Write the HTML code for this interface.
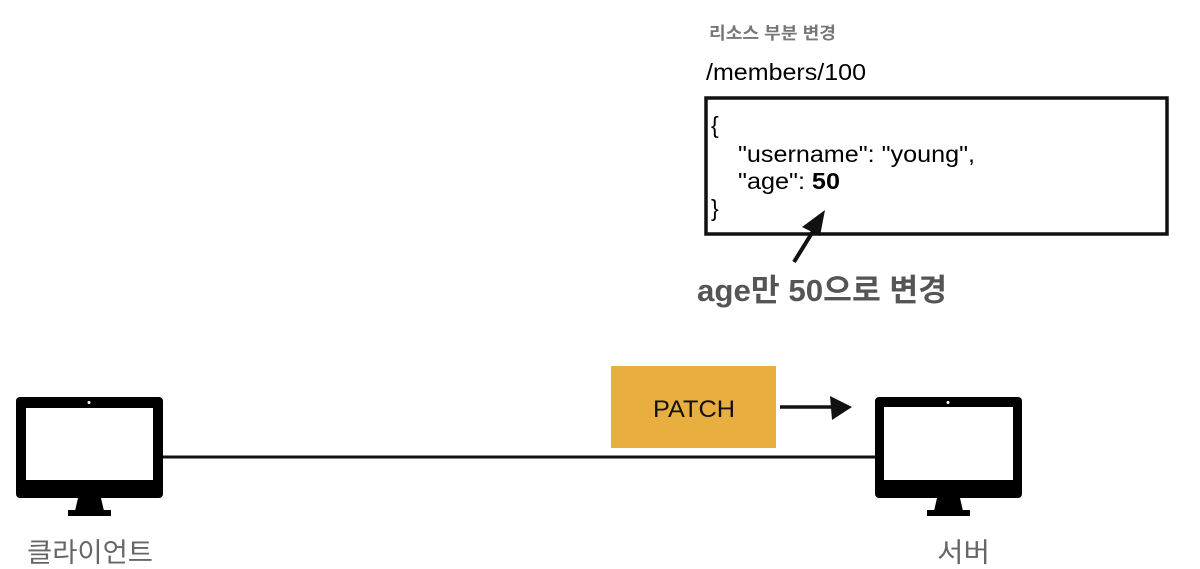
<!DOCTYPE html>
<html><head><meta charset="utf-8"><style>
html,body{margin:0;padding:0;background:#fff;}
body{width:1200px;height:569px;overflow:hidden;position:relative;}
svg{position:absolute;left:0;top:0;}
text{font-family:"Liberation Sans","Noto Sans CJK KR",sans-serif;}
</style></head><body>
<svg width="1200" height="569" viewBox="0 0 1200 569">
<text x="709" y="39" font-size="17" font-weight="bold" fill="#777" textLength="127" lengthAdjust="spacingAndGlyphs">리소스 부분 변경</text>
<text x="706" y="80" font-size="23" fill="#000" textLength="160" lengthAdjust="spacingAndGlyphs">/members/100</text>
<rect x="706" y="98" width="461" height="136" fill="none" stroke="#111" stroke-width="3.5"/>
<text x="711" y="133" font-size="23" fill="#000">{</text>
<text x="738" y="162" font-size="23" fill="#000" textLength="237" lengthAdjust="spacingAndGlyphs">"username": "young",</text>
<text x="738" y="189" font-size="23" fill="#000" textLength="102" lengthAdjust="spacingAndGlyphs">"age": <tspan font-weight="bold">50</tspan></text>
<text x="711" y="216" font-size="23" fill="#000">}</text>
<line x1="794" y1="262" x2="815" y2="228" stroke="#111" stroke-width="4"/>
<polygon points="825,210 802,227 820,236" fill="#111"/>
<text x="697" y="301" font-size="31" font-weight="bold" fill="#555" textLength="250" lengthAdjust="spacingAndGlyphs">age만 50으로 변경</text>
<rect x="611" y="366" width="165" height="82" fill="#E8AE40"/>
<text x="653" y="417" font-size="24" fill="#111" textLength="82" lengthAdjust="spacingAndGlyphs">PATCH</text>
<line x1="780" y1="407" x2="835" y2="407" stroke="#111" stroke-width="3.5"/>
<polygon points="852,407 830,396 832,420" fill="#111"/>
<line x1="163" y1="457" x2="875" y2="457" stroke="#111" stroke-width="3"/>
<g>
<rect x="16" y="397" width="147" height="101" rx="4" fill="#000"/>
<rect x="26" y="408" width="127" height="72" fill="#fff"/>
<circle cx="89" cy="402.5" r="1.5" fill="#fff"/>
<polygon points="78,498 101,498 104,511 75,511" fill="#000"/>
<rect x="68" y="510" width="43" height="6" fill="#000"/>
</g>
<g>
<rect x="875" y="397" width="147" height="101" rx="4" fill="#000"/>
<rect x="884" y="407" width="129" height="73" fill="#fff"/>
<circle cx="948" cy="402.5" r="1.5" fill="#fff"/>
<polygon points="937,498 960,498 963,511 934,511" fill="#000"/>
<rect x="927" y="510" width="43" height="6" fill="#000"/>
</g>
<text x="27" y="562" font-size="27" fill="#666" textLength="126" lengthAdjust="spacingAndGlyphs">클라이언트</text>
<text x="937" y="562" font-size="27" fill="#666" textLength="53" lengthAdjust="spacingAndGlyphs">서버</text>
</svg>
</body></html>
